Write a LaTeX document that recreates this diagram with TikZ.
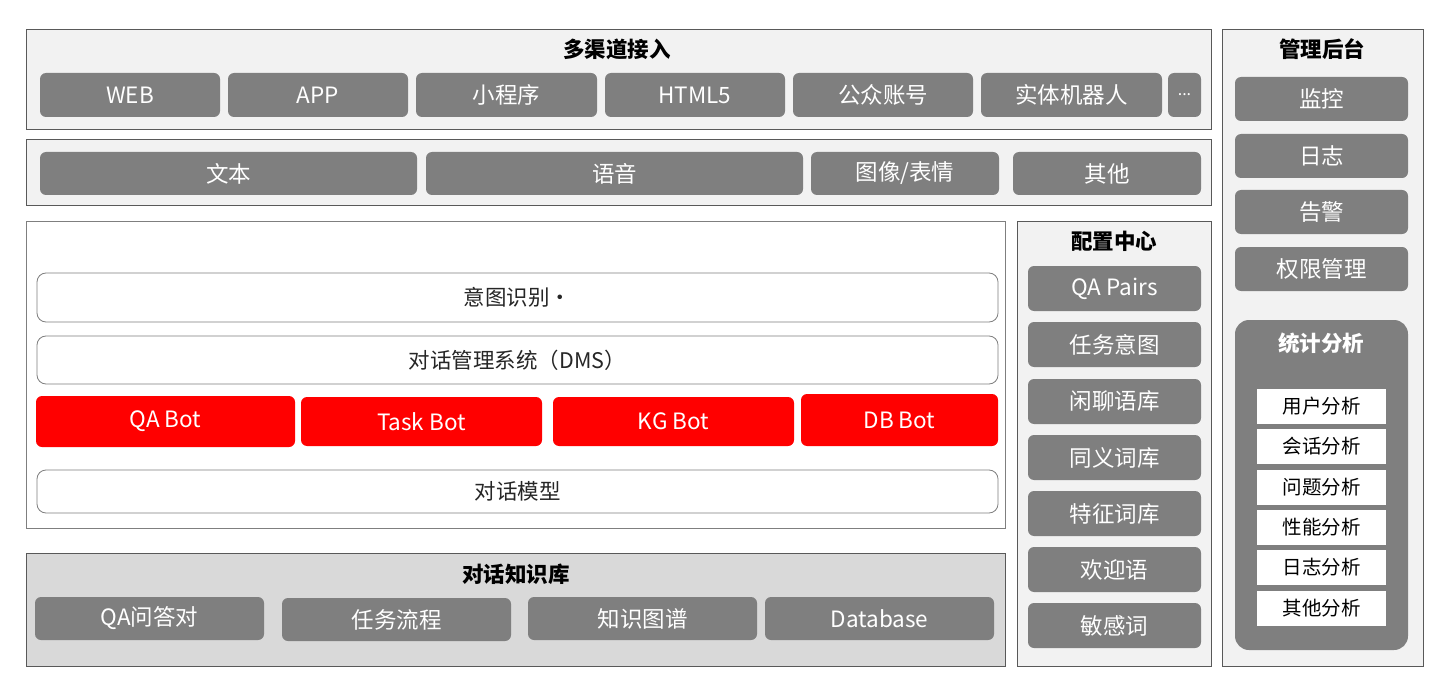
\documentclass[tikz,border=0pt]{standalone}
\usepackage{fontspec}
\setmainfont{Noto Sans CJK SC}
\definecolor{btngray}{HTML}{7F7F7F}
\definecolor{panel}{HTML}{F2F2F2}
\definecolor{kb}{HTML}{D9D9D9}
\definecolor{edge}{HTML}{595959}
\definecolor{redbot}{HTML}{FF0000}
\tikzset{
  outerpanel/.style={draw=edge, line width=1pt, inner sep=0pt},
  gbtn/.style={fill=btngray, rounded corners=6pt, text=white, inner sep=0pt, font=\fontsize{22.5}{22.5}\selectfont},
  wrow/.style={draw=btngray, fill=white, rounded corners=9pt, line width=0.8pt, text=black!85, inner sep=0pt, font=\fontsize{21.5}{21.5}\selectfont},
  rbtn/.style={fill=redbot, rounded corners=6pt, text=white, inner sep=0pt, font=\fontsize{22.5}{22.5}\selectfont},
  abox/.style={fill=white, inner sep=0pt, text=black, font=\fontsize{19.5}{19.5}\selectfont},
  ptitle/.style={inner sep=0pt, font=\bfseries\fontsize{21.5}{21.5}\selectfont, text=black},
}
\newcommand\Bx[7]{\node[#1, minimum width={#5pt-#3pt}, minimum height={#6pt-#4pt}] (#2) at ({(#3+#5)/2},{(#4+#6)/2}) {#7};}
\begin{document}
\begin{tikzpicture}[x=1pt,y=-1pt]
\useasboundingbox (0,0) rectangle (1440,679);
% panels
\Bx{outerpanel,fill=panel}{pChan}{26}{30}{1211}{130}{}
\Bx{outerpanel,fill=panel}{pMode}{26}{140}{1211}{206}{}
\Bx{outerpanel,fill=white,draw=btngray}{pCore}{26}{222}{1005}{528}{}
\Bx{outerpanel,fill=kb}{pKB}{26}{553}{1005}{666}{}
\Bx{outerpanel,fill=panel}{pCfg}{1017}{222}{1211}{666}{}
\Bx{outerpanel,fill=panel}{pAdm}{1222}{30}{1423}{666}{}
% titles
\node[ptitle] (tChan) at (617,49) {多渠道接入};
\node[ptitle] (tKB) at (516,574) {对话知识库};
\node[ptitle] (tCfg) at (1114,241) {配置中心};
\node[ptitle] (tAdm) at (1322,49) {管理后台};
% channels
\Bx{gbtn}{cWeb}{40}{73}{220}{117}{WEB}
\Bx{gbtn}{cApp}{228}{73}{408}{117}{APP}
\Bx{gbtn}{cMini}{416}{73}{597}{117}{小程序}
\Bx{gbtn}{cH5}{605}{73}{785}{117}{HTML5}
\Bx{gbtn}{cPub}{793}{73}{973}{117}{公众账号}
\Bx{gbtn}{cRobot}{981}{73}{1162}{117}{实体机器人}
\Bx{gbtn,font=\fontsize{16}{16}\selectfont}{cMore}{1168}{73}{1201}{117}{...}
% modes
\Bx{gbtn}{mText}{40}{152}{417}{195}{文本}
\Bx{gbtn}{mVoice}{426}{152}{803}{195}{语音}
\Bx{gbtn}{mImg}{811}{152}{999}{195}{图像/表情}
\Bx{gbtn}{mOther}{1013}{152}{1201}{195}{其他}
% core
\Bx{wrow}{rIntent}{37}{273}{998}{322}{意图识别·}
\Bx{wrow}{rDMS}{37}{336}{998}{384}{对话管理系统（DMS）}
\Bx{rbtn}{bQA}{36}{396}{295}{447}{QA Bot}
\Bx{rbtn}{bTask}{301}{397}{542}{446}{Task Bot}
\Bx{rbtn}{bKG}{553}{397}{794}{446}{KG Bot}
\Bx{rbtn}{bDB}{801}{394}{998}{446}{DB Bot}
\Bx{wrow}{rModel}{37}{470}{998}{513}{对话模型}
% knowledge base
\Bx{gbtn}{kQA}{35}{597}{264}{640}{QA问答对}
\Bx{gbtn}{kTask}{282}{598}{511}{641}{任务流程}
\Bx{gbtn}{kKG}{528}{597}{757}{640}{知识图谱}
\Bx{gbtn}{kDB}{765}{597}{994}{640}{Database}
% config center
\Bx{gbtn}{gQA}{1028}{266}{1201}{311}{QA Pairs}
\Bx{gbtn}{gIntent}{1028}{322}{1201}{367}{任务意图}
\Bx{gbtn}{gChat}{1028}{379}{1201}{424}{闲聊语库}
\Bx{gbtn}{gSyn}{1028}{435}{1201}{480}{同义词库}
\Bx{gbtn}{gFeat}{1028}{491}{1201}{536}{特征词库}
\Bx{gbtn}{gWelcome}{1028}{547}{1201}{592}{欢迎语}
\Bx{gbtn}{gSens}{1028}{603}{1201}{648}{敏感词}
% admin
\Bx{gbtn}{aMon}{1235}{77}{1408}{121}{监控}
\Bx{gbtn}{aLog}{1235}{134}{1408}{178}{日志}
\Bx{gbtn}{aAlarm}{1235}{190}{1408}{234}{告警}
\Bx{gbtn}{aPerm}{1235}{247}{1408}{291}{权限管理}
\Bx{gbtn,rounded corners=14pt}{aStat}{1235}{320}{1408}{650}{}
\node[ptitle,text=white] (tStat) at (1321,343) {统计分析};
\Bx{abox}{sUser}{1257}{389}{1386}{424}{用户分析}
\Bx{abox}{sSess}{1257}{429}{1386}{464}{会话分析}
\Bx{abox}{sQues}{1257}{470}{1386}{505}{问题分析}
\Bx{abox}{sPerf}{1257}{510}{1386}{545}{性能分析}
\Bx{abox}{sLog}{1257}{550}{1386}{585}{日志分析}
\Bx{abox}{sOther}{1257}{591}{1386}{626}{其他分析}
\end{tikzpicture}
\end{document}
